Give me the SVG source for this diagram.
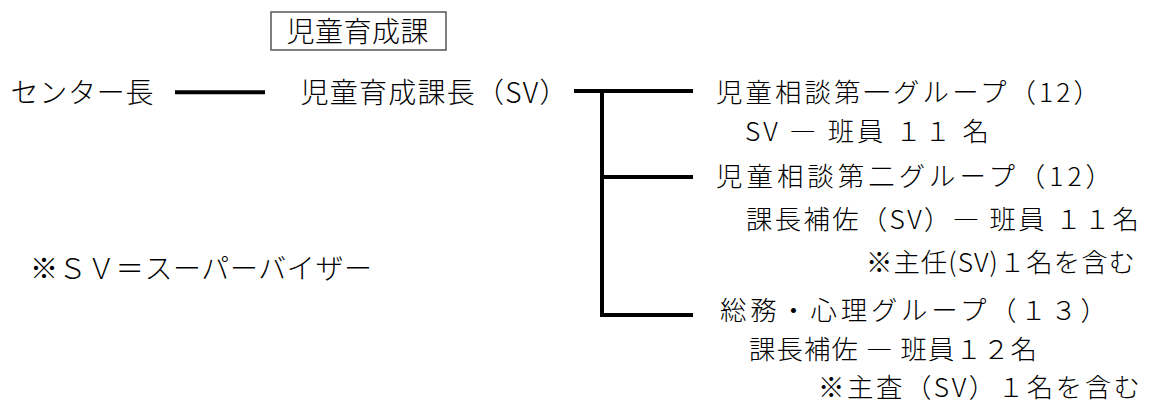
<svg xmlns="http://www.w3.org/2000/svg" width="1170" height="403" viewBox="0 0 1170 403">
<style>
text{font-family:"Noto Sans CJK JP","Noto Sans",sans-serif;font-size:26.4px;font-weight:300;fill:#000}
.big{font-size:28px}
.ln{stroke:#000;stroke-width:4;fill:none;stroke-linecap:butt}
</style>
<rect width="1170" height="403" fill="#fff"/>
<g id="dept-label"><rect x="271" y="12" width="175" height="38" fill="#fff" stroke="#555" stroke-width="1.5"/><text class="big" x="286.5" y="41.5" textLength="142" lengthAdjust="spacing">児童育成課</text></g>
<g id="center-head"><text class="big" x="10.5" y="103" textLength="143" lengthAdjust="spacing">センター長</text></g>
<g id="section-chief"><text class="big" x="300.5" y="103" textLength="267" lengthAdjust="spacing">児童育成課長（SV）</text></g>
<g id="group1"><text x="716" y="102" textLength="384" lengthAdjust="spacing">児童相談第一グループ（12）</text><text x="745" y="141" textLength="244" lengthAdjust="spacing">SV ― 班員 １１ 名</text></g>
<g id="group2"><text x="716" y="186" textLength="396" lengthAdjust="spacing">児童相談第二グループ（12）</text><text x="746" y="229" textLength="393" lengthAdjust="spacing">課長補佐（SV）― 班員 １１名</text><text x="866" y="272" textLength="269" lengthAdjust="spacing">※主任(SV)１名を含む</text></g>
<g id="group3"><text x="720" y="320" textLength="387" lengthAdjust="spacing">総務・心理グループ（１３）</text><text x="749" y="358.5" textLength="288" lengthAdjust="spacing">課長補佐 ― 班員１２名</text><text x="818" y="397" textLength="322" lengthAdjust="spacing">※主査（SV）１名を含む</text></g>
<g id="note"><text class="big" x="30" y="279" textLength="342" lengthAdjust="spacing">※ＳＶ＝スーパーバイザー</text></g>
<g id="connectors">
<line class="ln" x1="175" y1="92.3" x2="265" y2="92.3"/>
<line class="ln" x1="574" y1="91" x2="693" y2="91"/>
<line class="ln" x1="602" y1="89" x2="602" y2="317"/>
<line class="ln" x1="602" y1="177" x2="693" y2="177"/>
<line class="ln" x1="600" y1="315" x2="693" y2="315"/>
</g>
</svg>
